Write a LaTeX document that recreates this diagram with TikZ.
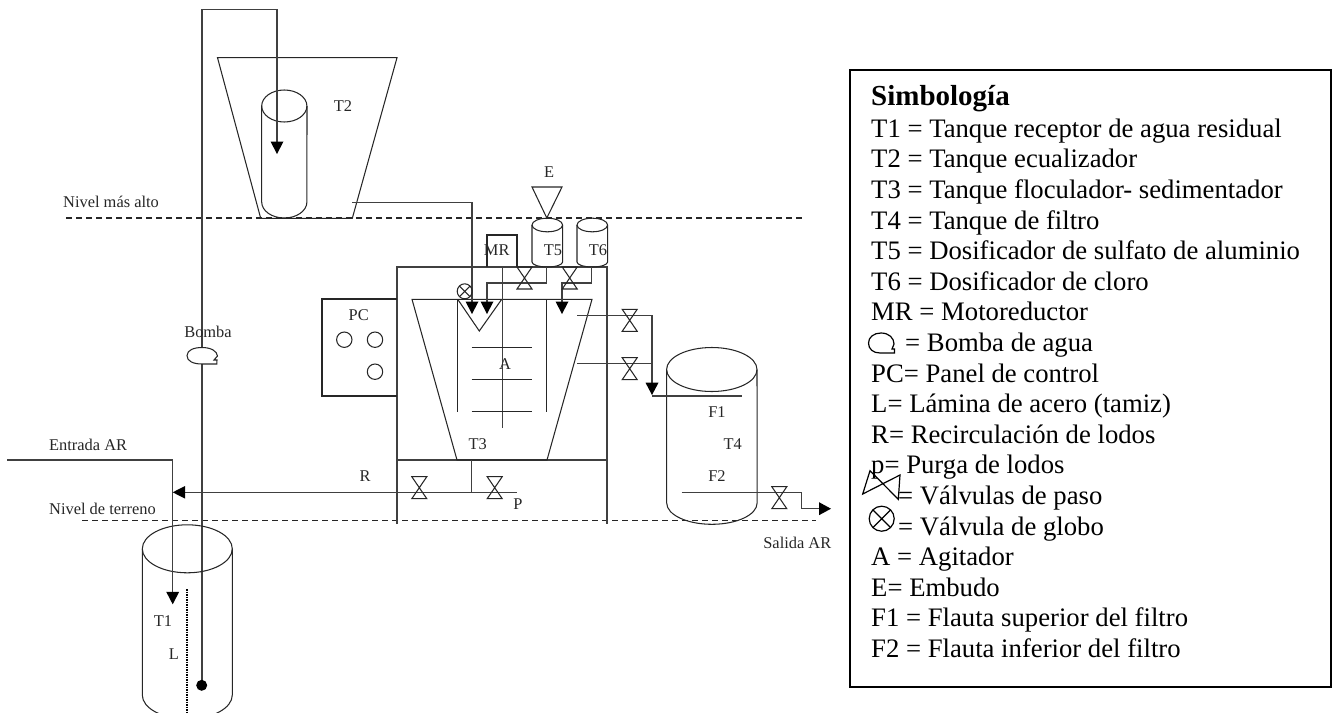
\documentclass[tikz,border=0pt]{standalone}
\usepackage{fontspec}
\setmainfont{Liberation Serif}
\tikzset{
  pipe/.style={draw=black!75,line width=1.1pt},
  tank/.style={draw=black!85,line width=1.05pt},
  tiplabel/.style={font=\fontsize{16.4}{18}\selectfont,inner sep=0pt,text=black!85},
  keyline/.style={font=\fontsize{26.7}{30}\selectfont,anchor=base west,inner sep=0pt},
  dashline/.style={draw=black!85,line width=1.05pt,dash pattern=on 6pt off 4pt},
  headfill/.style={fill=black,draw=none},
  pics/valve/.style={code={
    \draw[tank] (-7.5,-11) -- (7.5,-11) -- (-7.5,11) -- (7.5,11) -- cycle;
  }},
}
\newcommand{\downhead}[2]{\fill[headfill] (#1-6.5,#2-12.5) -- (#1+6.5,#2-12.5) -- (#1,#2) -- cycle;}
\begin{document}
\begin{tikzpicture}[x=1pt,y=-1pt]
  \useasboundingbox (0,0) rectangle (1337,712);
  \clip (0,0) rectangle (1337,712);
  % ground levels
  \draw[dashline] (66,218) -- (802,218);
  \draw[dashline] (82,520.5) -- (816,520.5);
  % T2 tank
  \draw[tank] (217.5,57.7) -- (397,57.7) -- (352.3,218.3) -- (260.7,218.3) -- cycle;
  \draw[tank] (284.3,106) ellipse[x radius=22.6,y radius=16];
  \draw[tank] (261.7,106) -- (261.7,202) arc[start angle=180,end angle=360,x radius=22.6,y radius=-16] -- (307,106);
  % pump line
  \draw[pipe] (202,347.5) -- (202,9.7) -- (277,9.7) -- (277,143);
  \downhead{277}{154}
  \draw[pipe] (202,364) -- (202,685);
  \fill (201.7,685.3) circle[radius=5.5];
  \draw[tank] (216.8,364) -- (202,364) .. controls (193,364) and (187,361) .. (187,355.7)
     .. controls (187,350) and (194,347.5) .. (202,347.5)
     .. controls (211,347.5) and (217,351) .. (217.5,356) -- (214,360) -- (217,360) -- cycle;
  % T1 tank
  \draw[tank] (187.3,548.8) ellipse[x radius=45,y radius=24];
  \draw[tank] (142.3,548.8) -- (142.3,695) arc[start angle=180,end angle=360,x radius=45,y radius=-24] -- (232.3,548.8);
  \draw[draw=black,line width=1.5pt,dash pattern=on 1.5pt off 1pt] (187,589) -- (187,712);
  \draw[pipe] (7,460) -- (172.7,460) -- (172.7,593);
  \downhead{172.7}{604.3}
  % T3 frame
  \draw[pipe] (397,524) -- (397,267) -- (607,267) -- (607,524);
  \draw[pipe] (397,460) -- (607,460);
  \draw[tank] (412,299.3) -- (592,299.3) -- (547,460) -- (457,460) -- cycle;
  \draw[tank] (457.7,299.3) -- (457.7,412);
  \draw[tank] (546.7,299.3) -- (546.7,412);
  \draw[tank] (457.7,299.3) -- (479.3,331) -- (501.7,299.3);
  % agitator
  \draw[pipe] (502.3,267) -- (502.3,427.7);
  \foreach \bladey in {347.5,379.7,411.7}
    \draw[tank] (471.7,\bladey) -- (532.3,\bladey);
  \draw[tank] (487,267) -- (487,235) -- (517,235) -- (517,267);
  % panel
  \draw[tank] (397,299) -- (322,299) -- (322,396) -- (397,396);
  \foreach \knobx/\knoby in {344.3/339.7,375/339.7,375/371.7}
    \draw[tank] (\knobx,\knoby) circle[radius=7.7];
  % T5, T6, funnel
  \draw[tank] (532,187) -- (562,187) -- (546.8,218) -- cycle;
  \foreach \dosex in {532,577}{
    \draw[tank] (\dosex+15.3,225) ellipse[x radius=15.3,y radius=6.8];
    \draw[tank] (\dosex,225) -- (\dosex,262) arc[start angle=180,end angle=360,x radius=15.3,y radius=-5] -- (\dosex+30.6,225);
  }
  % feed lines
  \draw[pipe] (352,202.7) -- (472,202.7) -- (472,303);
  \downhead{472}{314}
  \draw[pipe] (546.7,267) -- (546.7,283) -- (487,283) -- (487,303);
  \downhead{487}{314}
  \draw[pipe] (591.7,267) -- (591.7,283) -- (562,283) -- (562,303);
  \downhead{562}{314}
  \pic at (524.5,278) {valve};
  \pic at (569.7,278) {valve};
  \draw[tank] (464.7,291.3) circle[radius=7.5];
  \draw[tank] (459.4,286) -- (470,296.6) (459.4,296.6) -- (470,286);
  % outlet to T4
  \draw[pipe] (577,315.3) -- (652,315.3) -- (652,384);
  \draw[pipe] (577,363.7) -- (652,363.7);
  \fill[headfill] (645.5,382.7) -- (658.5,382.7) -- (652,395) -- cycle;
  \pic at (629.7,320.3) {valve};
  \pic at (629.7,368.7) {valve};
  % T4 tank
  \draw[tank] (711.8,369.5) ellipse[x radius=45.2,y radius=22];
  \draw[tank] (666.7,369.5) -- (666.7,503) arc[start angle=180,end angle=360,x radius=45.2,y radius=-21.3] -- (757,369.5);
  \draw[pipe] (652,396) -- (741.7,396);
  \draw[pipe] (681.7,492.3) -- (801.7,492.3) -- (801.7,508.7) -- (820,508.7);
  \fill[headfill] (819,502.2) -- (819,515.2) -- (831,508.7) -- cycle;
  \pic at (779.3,497.7) {valve};
  % recirculation
  \draw[pipe] (184,492.3) -- (516.7,492.3);
  \fill[headfill] (185,486) -- (185,498.6) -- (172.7,492.3) -- cycle;
  \draw[pipe] (471.7,460) -- (471.7,492.3);
  \pic at (419.3,487.7) {valve};
  \pic at (494.7,487.7) {valve};
  % labels
  \node[tiplabel] (lblT2) at (343,106) {T2};
  \node[tiplabel,anchor=west] (lblalto) at (63,202) {Nivel más alto};
  \node[tiplabel,anchor=west] (lblterreno) at (49,509) {Nivel de terreno};
  \node[tiplabel,anchor=west] (lblentrada) at (49,445) {Entrada AR};
  \node[tiplabel] (lblsalida) at (797.3,543) {Salida AR};
  \node[tiplabel] (lblbomba) at (208,332) {Bomba};
  \node[tiplabel] (lblT1) at (163,621) {T1};
  \node[tiplabel] (lblL) at (174,654) {L};
  \node[tiplabel] (lblR) at (365,476) {R};
  \node[tiplabel] (lblP) at (518,504) {P};
  \node[tiplabel] (lblT3) at (477.7,444) {T3};
  \node[tiplabel] (lblA) at (505,364) {A};
  \node[tiplabel] (lblPC) at (358.7,315) {PC};
  \node[tiplabel] (lblMR) at (496.7,250.3) {MR};
  \node[tiplabel] (lblT5) at (553,250.3) {T5};
  \node[tiplabel] (lblT6) at (598,250.3) {T6};
  \node[tiplabel] (lblE) at (549,172) {E};
  \node[tiplabel] (lblF1) at (717,411.7) {F1};
  \node[tiplabel] (lblT4) at (732.7,444.3) {T4};
  \node[tiplabel] (lblF2) at (717,475.7) {F2};
  % key
  \draw[draw=black,line width=1.6pt] (850,70) rectangle (1331,686.7);
  \node[keyline,font=\fontsize{29}{32}\selectfont] (keytitle) at (871,105.7) {\textbf{Simbología}};
  \foreach \keyrow/\keytext in {
    0/{T1 = Tanque receptor de agua residual},
    1/{T2 = Tanque ecualizador},
    2/{T3 = Tanque floculador- sedimentador},
    3/{T4 = Tanque de filtro},
    4/{T5 = Dosificador de sulfato de aluminio},
    5/{T6 = Dosificador de cloro},
    6/{MR = Motoreductor},
    8/{PC= Panel de control},
    9/{L= Lámina de acero (tamiz)},
    10/{R= Recirculación de lodos},
    11/{p= Purga de lodos},
    14/{A = Agitador},
    15/{E= Embudo},
    16/{F1 = Flauta superior del filtro},
    17/{F2 = Flauta inferior del filtro}}
    \node[keyline] at (871,{137.3+30.6*\keyrow}) {\keytext};
  \node[keyline] (keybomba) at (905,351.5) {= Bomba de agua};
  \node[keyline] (keypaso) at (898,504.5) {= Válvulas de paso};
  \node[keyline] (keyglobo) at (898,535.1) {= Válvula de globo};
  % key icons
  \draw[line width=1.2pt] (894.5,353) -- (880,353) .. controls (873,353) and (868.5,349) .. (868.5,343)
     .. controls (868.5,337) and (874,333) .. (881,333) .. controls (889,333) and (894,338) .. (894,344)
     -- (892,349) -- (894.5,349) -- cycle;
  \draw[line width=1.2pt] (870,470.7) -- (898.3,499.3) -- (900,475) -- (862.7,494) -- cycle;
  \draw[line width=1.2pt] (881.7,518.7) circle[radius=12.5];
  \draw[line width=1.2pt] (872.9,509.9) -- (890.5,527.5) (872.9,527.5) -- (890.5,509.9);
\end{tikzpicture}
\end{document}
